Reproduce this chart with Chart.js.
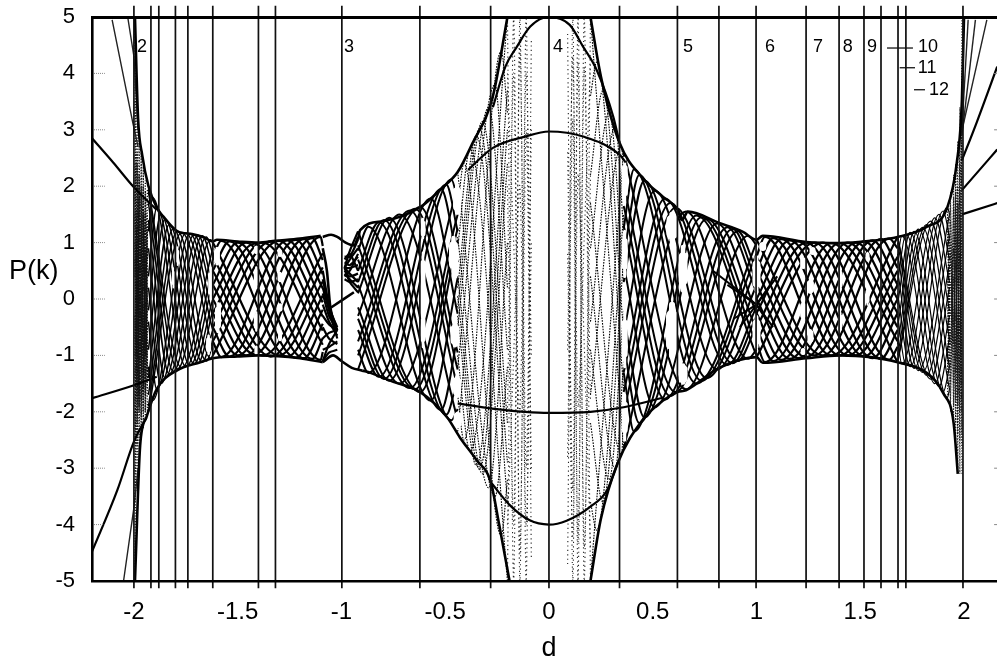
<!DOCTYPE html>
<html>
<head>
<meta charset="utf-8">
<title>P(k) against d</title>
<script src="https://cdn.jsdelivr.net/npm/chart.js@4/dist/chart.umd.min.js"></script>
<style>
	html, body { margin: 0; padding: 0; background: #fff; }
	canvas { display: block; }
</style>
</head>
<body>
<canvas id="chart" width="997" height="662"></canvas>
<script>
'use strict';

/*================ Axes ================*/

var xTicks = [-2, -1.5, -1, -0.5, 0, 0.5, 1, 1.5, 2];
var yTicks = [-5, -4, -3, -2, -1, 0, 1, 2, 3, 4, 5];
var yTickMarks = [-4, -3, -2, -1, 0, 1, 2, 3, 4];

// vertical lines at the band edges
var dividers = [-2, -1.918, -1.88, -1.8, -1.74, -1.62, -1.4, -1.318, -0.998, -0.622, -0.281, 0, 0.34, 0.619, 0.819, 0.998, 1.239, 1.398, 1.518, 1.6, 1.682, 1.72, 1.995];

// band numbers
var bandText = ['2', '3', '4', '5', '6', '7', '8', '9', '10', '11', '12'];
var bandD = [-1.961, -0.964, 0.043, 0.67, 1.065, 1.296, 1.44, 1.557, 1.827, 1.822, 1.88];
var bandP = [4.47, 4.47, 4.47, 4.47, 4.47, 4.47, 4.47, 4.47, 4.47, 4.09, 3.71];
var leaderD = [[1.629, 1.754], [1.69, 1.764], [1.759, 1.812]];
var leaderP = [4.45, 4.1, 3.71];

/*================ Single curves ================*/

var upperLeftD = [-1.995, -1.98, -1.96, -1.93, -1.89, -1.86, -1.79, -1.72, -1.667, -1.62, -1.6, -1.5, -1.4, -1.32, -1.2, -1.1];
var upperLeftP = [5, 3.2, 2.55, 2.0, 1.62, 1.47, 1.2, 1.15, 1.1, 1.02, 1.05, 1.02, 1.0, 1.03, 1.07, 1.12];
var lowerLeftD = [-1.995, -1.97, -1.94, -1.89, -1.79, -1.68, -1.62, -1.5, -1.4, -1.2, -1.09];
var lowerLeftP = [-5, -2.6, -2.1, -1.6, -1.26, -1.12, -1.05, -1.02, -1.0, -1.05, -1.12];
var upperMidLeftD = [-0.92, -0.91, -0.8, -0.62, -0.52, -0.44, -0.37, -0.27, -0.2];
var upperMidLeftP = [1.05, 1.22, 1.38, 1.63, 1.95, 2.25, 2.75, 3.6, 5];
var lowerMidLeftD = [-0.9, -0.86, -0.75, -0.62, -0.49, -0.43, -0.35, -0.28, -0.24, -0.19];
var lowerMidLeftP = [-1.27, -1.31, -1.47, -1.65, -2.1, -2.45, -2.85, -3.25, -4.0, -5];
var upperRightD = [0.2, 0.25, 0.34, 0.45, 0.55, 0.62, 0.64, 0.67, 0.82, 0.935, 1.0, 1.03, 1.24, 1.4, 1.55, 1.68, 1.82, 1.92, 1.965, 1.99, 2.0];
var upperRightP = [5, 3.95, 2.77, 2.15, 1.81, 1.58, 1.4, 1.55, 1.35, 1.19, 1.05, 1.12, 1.01, 0.99, 1.03, 1.1, 1.28, 1.63, 2.41, 3.53, 5];
var lowerRightD = [0.2, 0.25, 0.33, 0.45, 0.55, 0.62, 0.66, 0.82, 1.0, 1.03, 1.24, 1.4, 1.55, 1.68, 1.82, 1.9, 1.95, 1.97];
var lowerRightP = [-5, -3.9, -2.92, -2.15, -1.8, -1.65, -1.62, -1.22, -1.03, -1.13, -1.05, -1.0, -1.03, -1.12, -1.31, -1.67, -2.2, -3.1];

var curve3D = [-0.39, -0.27, -0.115, 0, 0.165, 0.34, 0.37];
var curve3P = [2.29, 2.68, 2.88, 2.97, 2.88, 2.56, 2.42];
var curve5D = [-0.27, -0.21, -0.155, -0.09, 0, 0.1, 0.165, 0.23, 0.31, 0.34];
var curve5P = [3.4, 4.12, 4.47, 4.83, 5, 4.86, 4.47, 4.06, 3.23, 2.77];
var curveMinus2D = [-0.44, -0.28, 0, 0.2, 0.36, 0.55];
var curveMinus2P = [-1.85, -1.94, -2.02, -2.0, -1.92, -1.75];
var curveMinus4D = [-0.28, -0.19, -0.095, 0, 0.085, 0.2, 0.28, 0.33];
var curveMinus4P = [-3.25, -3.65, -3.92, -4, -3.93, -3.68, -3.39, -2.92];

var outerThickD = [[-2.202, -2.1, -2.0, -1.89], [-2.202, -2.0, -1.89], [-2.202, -2.08, -2.0, -1.94], [1.99, 2.16], [1.99, 2.16], [1.99, 2.06, 2.16]];
var outerThickP = [[2.85, 2.42, 1.98, 1.58], [-1.76, -1.53, -1.38], [-4.48, -3.39, -2.53, -2.1], [1.5, 1.7], [1.93, 2.65], [2.46, 3.12, 4.12]];
var outerThinD = [[-2.105, -2.005, -1.98], [-2.03, -2.0, -1.98], [-2.05, -2.0, -1.98], [1.985, 2.11], [1.99, 2.055], [1.99, 2.02]];
var outerThinP = [[4.95, 3.12, 2.7], [5, 4.3, 3.0], [-5, -3.7, -3.0], [2.9, 4.95], [2.9, 4.95], [3.0, 4.95]];

// the white lens around d = -1
var lensBandsD = [[-1.09, -1.05, -1.02, -0.98, -0.94, -0.92], [-1.05, -0.94], [-1.09, -1.04, -1.0, -0.95, -0.9], [-1.09, -1.07, -1.055, -1.04]];
var lensBandsP = [[1.1, 1.14, 1.1, 1.0, 0.95, 1.1], [-0.15, 0.12], [-1.12, -1.0, -1.1, -1.22, -1.27], [0.9, 0.5, -0.1, -0.4]];
var lensWedgeLeftD = [-1.09, -1.06, -1.02];
var lensWedgeLeft = [[0.5, -0.1, -0.55], [0.1, -0.3, -0.55], [-0.3, -0.45, -0.55], [-0.7, -0.6, -0.55], [-1.1, -0.8, -0.55], [-1.1, -0.95, -0.9], [0.2, -0.2, -0.7], [-0.5, -0.7, -0.8], [-0.1, -0.4, -0.65], [-0.9, -0.85, -0.75], [0.35, -0.15, -0.5]];
var lensWedgeRightD = [-0.985, -0.96, -0.92];
var lensWedgeRight = [[0.55, 0.85, 1.2], [0.55, 0.7, 0.9], [0.55, 0.55, 0.6], [0.55, 0.45, 0.3], [0.55, 0.3, 0.12], [0.7, 0.8, 0.5], [0.4, 0.5, 0.8], [0.75, 0.75, 1.05], [0.65, 0.6, 0.75], [0.5, 0.4, 0.45], [0.45, 0.35, 0.2], [0.35, 0.3, 0.35]];

// rays meeting at the node d = 1, P = -0.1
var starRays = [
	[0.79, 0.5, 1, -0.1, 1.06, 0.22],
	[0.86, 0.25, 1, -0.1, 1.05, -0.38],
	[0.89, -0.35, 1, -0.1, 1.1, 0.4],
	[0.92, -0.5, 1, -0.1, 1.08, -0.5]
];

/*================ White gaps in the mesh: d, top P, bottom P ================*/

var gapD = [-1.81, -1.79, -1.6, -1.63, -1.595, -1.64, -1.41, -1.41, -1.41, -1.41, -1.296, -1.296, -1.296, -1.296, -0.607, -0.607, -0.607, -0.443, -0.46, -0.453, -0.443, -0.44, 0.365, 0.365, 0.365, 0.365, 0.593, 0.646, 0.593, 0.646, 1, 1, 1.03, 1.27, 1.225, 1.26, 1.225, 1.26, 1.225, 1.405, 1.405, 1.535, 1.535];
var gapTop = [0.55, 0.92, 0.9, 0.55, -0.08, -0.65, 0.92, 0.56, -0.24, -0.84, 0.83, 0.46, -0.1, -0.63, 1.42, 0.82, -0.25, 2.02, 1.08, -0.45, -1.38, -2.03, 2.5, 1.2, -0.2, -1.7, 1.5, 0.92, -0.1, -1.18, 0.74, -0.32, 0.96, 0.88, 0.72, 0.32, -0.05, -0.56, -0.9, 0.55, -0.25, 0.82, 0.2];
var gapBottom = [0.2, 0.6, 0.62, 0, -0.58, -0.97, 0.82, 0.2, -0.56, -0.98, 0.78, 0.32, -0.2, -0.73, 1.08, 0.03, -0.85, 1.53, 0.48, -0.82, -1.72, -2.26, 1.7, 0.4, -1.2, -2.5, 1.05, 0.15, -1.0, -1.48, 0.15, -0.85, 0.9, 0.82, 0.56, 0.12, -0.36, -0.76, -0.96, 0.15, -0.55, 0.68, -0.1];
var gapStroke = [3, 3, 6, 5, 6, 5, 5, 5, 5, 4, 5, 5, 5, 4, 5, 5, 5, 8, 9, 9, 8, 8, 6, 6, 6, 6, 11, 9, 12, 9, 8, 8, 7, 6, 6, 7, 6, 6, 5, 4, 4, 4, 4];

/*================ Mesh strands, each row is d, P, d, P, ... estimated by eye ================*/

// stipple next to d = -2
var stippleLeftD = [-1.995, -1.985, -1.975, -1.965, -1.955, -1.945, -1.935];
var stippleLeft = [
	[5, -3.4, 2.9, -2.5, 2.35, -2.15, 1.95],
	[-5, 3.4, -2.8, 2.6, -2.3, 2.1, -2],
	[3.5, -2.2, 2.2, -1.8, 1.6, -1.7, 1.2],
	[-3.6, 2.4, -2, 1.9, -1.7, 1.5, -1.4],
	[1.5, -1, 1.2, -1, 0.8, -1, 0.5],
	[-1.4, 0.9, -1.1, 0.9, -0.9, 0.7, -0.6],
	[0.4, 1.6, -1.6, 0.3, 0.2, 1.2, -0.1],
	[-0.3, -1.7, 1.5, -0.4, -0.1, -1.2, 0.2],
	[2.4, 0.2, -0.5, 1.4, -1.3, 0.4, 0.9],
	[-2.5, -0.2, 0.6, -1.3, 1.2, -0.5, -1],
	[1, -0.6, -1.9, 2, -0.6, -0.3, 1.5],
	[-1, 0.5, 2, -2.1, 0.6, 0.2, -1.6],
	[2, 2.6, -0.3, 0.7, 2, -2, 0],
	[-2, -2.6, 0.2, -0.8, -2, 1.9, 0.7],
	[0.7, -1.4, 0.4, 1.2, -1.6, 0.9, -1.3],
	[-0.7, 1.3, -0.5, -1.2, 1.5, -0.8, 1.3],
	[1.9, -0.4, 1.8, -0.5, 0.4, 1.6, -0.9],
	[-1.9, 0.5, -1.7, 0.5, -0.5, -1.6, 0.9]
];

var meshA = [
	[-1.93, 1.95, -1.77, -1.22, -1.62, 0.9],
	[-1.93, 1.2, -1.91, 1.8, -1.75, -1.2, -1.62, 0.55],
	[-1.93, 0.4, -1.89, 1.62, -1.73, -1.18, -1.62, 0.3],
	[-1.93, -0.2, -1.87, 1.5, -1.71, -1.15, -1.62, 0],
	[-1.93, -0.9, -1.85, 1.42, -1.69, -1.13, -1.62, -0.2],
	[-1.93, -1.4, -1.83, 1.32, -1.67, -1.12, -1.62, -0.55],
	[-1.93, -1.7, -1.81, 1.25, -1.65, -1.1, -1.62, -0.8],
	[-1.93, -1.9, -1.79, 1.2, -1.63, -1.05, -1.62, -1],
	[-1.93, -2, -1.77, 1.18, -1.62, -0.9],
	[-1.93, -1.2, -1.91, -1.8, -1.75, 1.17, -1.62, -0.55],
	[-1.93, -0.4, -1.89, -1.6, -1.73, 1.16, -1.62, -0.3],
	[-1.93, 0.2, -1.87, -1.5, -1.71, 1.14, -1.62, 0],
	[-1.93, 0.9, -1.85, -1.4, -1.69, 1.13, -1.62, 0.2],
	[-1.93, 1.4, -1.83, -1.33, -1.67, 1.12, -1.62, 0.55],
	[-1.93, 1.7, -1.81, -1.28, -1.65, 1.1, -1.62, 0.8],
	[-1.93, 1.9, -1.79, -1.24, -1.63, 1.05, -1.62, 1]
];

var meshB = [
	[-1.62, 1, -1.3, -1, -1.09, 0.31],
	[-1.62, 0.75, -1.58, 1.03, -1.26, -1.02, -1.09, 0.06],
	[-1.62, 0.5, -1.54, 1.02, -1.22, -1.04, -1.09, -0.19],
	[-1.62, 0.25, -1.5, 1, -1.18, -1.05, -1.09, -0.44],
	[-1.62, 0, -1.46, 1, -1.14, -1.06, -1.09, -0.69],
	[-1.62, -0.25, -1.42, 0.98, -1.1, -1.08, -1.09, -0.94],
	[-1.62, -0.5, -1.38, 1, -1.09, -0.81],
	[-1.62, -0.75, -1.34, 1.02, -1.09, -0.56],
	[-1.62, -1, -1.3, 1.03, -1.09, -0.31],
	[-1.62, -0.75, -1.58, -1.03, -1.26, 1.04, -1.09, -0.06],
	[-1.62, -0.5, -1.54, -1.02, -1.22, 1.05, -1.09, 0.19],
	[-1.62, -0.25, -1.5, -1, -1.18, 1.06, -1.09, 0.44],
	[-1.62, 0, -1.46, -1, -1.14, 1.08, -1.09, 0.69],
	[-1.62, 0.25, -1.42, -0.98, -1.1, 1.1, -1.09, 0.94],
	[-1.62, 0.5, -1.38, -1, -1.09, 0.81],
	[-1.62, 0.75, -1.34, -1.02, -1.09, 0.56]
];

var meshC = [
	[-0.92, 1.2, -0.62, -1.65, -0.44, 1.05],
	[-0.92, 0.86, -0.87, 1.28, -0.57, -1.8, -0.44, 0.37],
	[-0.92, 0.5, -0.82, 1.36, -0.52, -1.97, -0.44, -0.65],
	[-0.92, 0.1, -0.77, 1.44, -0.47, -2.15, -0.44, -1.95],
	[-0.92, -0.3, -0.72, 1.5, -0.44, -2.14],
	[-0.92, -0.75, -0.67, 1.57, -0.44, -1.57],
	[-0.92, -1.25, -0.62, 1.63, -0.44, -0.95],
	[-0.92, -0.9, -0.87, -1.31, -0.57, 1.78, -0.44, -0.26],
	[-0.92, -0.55, -0.82, -1.38, -0.52, 1.95, -0.44, 0.65],
	[-0.92, -0.15, -0.77, -1.45, -0.47, 2.12, -0.44, 1.75],
	[-0.92, 0.25, -0.72, -1.5, -0.44, 2],
	[-0.92, 0.7, -0.67, -1.58, -0.44, 1.5],
	[-0.92, 0.3, -0.795, 1.4, -0.495, -2.05, -0.44, -1.4],
	[-0.92, -1, -0.645, 1.6, -0.44, -1.25],
	[-0.92, -0.35, -0.795, -1.42, -0.495, 2.03, -0.44, 1.2],
	[-0.92, 0.95, -0.645, -1.6, -0.44, 1.25]
];

var meshE = [
	[-0.44, 2.25, -0.26, -3.5, -0.2, -1.2],
	[-0.44, 1.6, -0.41, 2.4, -0.23, -4.2, -0.2, -3.2],
	[-0.44, 0.9, -0.38, 2.65, -0.2, -5],
	[-0.44, 0.2, -0.35, 2.9, -0.2, -3.6],
	[-0.44, -0.5, -0.32, 3.15, -0.2, -2.2],
	[-0.44, -1.2, -0.29, 3.4, -0.2, -0.9],
	[-0.44, -2.35, -0.26, 3.8, -0.2, 0.2],
	[-0.44, -1.7, -0.41, -2.5, -0.23, 4.4, -0.2, 3.3],
	[-0.44, -1, -0.38, -2.7, -0.2, 5],
	[-0.44, -0.3, -0.35, -2.95, -0.2, 3.7],
	[-0.44, 0.4, -0.32, -3.1, -0.2, 2.4],
	[-0.44, 1.1, -0.29, -3.35, -0.2, 1],
	[-0.44, -0.15, -0.335, 3.02, -0.2, -2.9],
	[-0.44, 0.05, -0.335, -3.02, -0.2, 3]
];

// dotted columns either side of the white gap at d = 0
var dottedLeftD = [-0.2, -0.17, -0.14, -0.11, -0.085];
var dottedLeft = [
	[5, -5, 5, -5, 4.6],
	[-5, 5, -5, 5, -4.6],
	[2, -4, 4.5, -3, 3],
	[-2, 4, -4.5, 3, -3],
	[4, 1, -2, 4, -1],
	[-4, -1, 2, -4, 1]
];
var dottedRightD = [0.09, 0.115, 0.14, 0.17, 0.2];
var dottedRight = [
	[4.7, -5, 5, -5, 5],
	[-4.7, 5, -5, 5, -5],
	[2.6, -3.4, 4.2, -4.4, 2.2],
	[-2.8, 3.2, -4.3, 4.1, -1.8],
	[0.8, -4.2, 2.2, -0.8, -4.4],
	[-0.9, 4.3, -1.9, 1.1, 4.2]
];

var meshF = [
	[0.2, 5, 0.36, -2.65],
	[0.2, 3.6, 0.23, 4.2, 0.36, -1.6],
	[0.2, 2.2, 0.26, 3.7, 0.36, -0.6],
	[0.2, 0.9, 0.29, 3.3, 0.36, 0.3],
	[0.2, -0.4, 0.32, 3.05, 0.36, 1.2],
	[0.2, -1.7, 0.35, 2.7, 0.36, 2.2],
	[0.2, -5, 0.36, 2.6],
	[0.2, -3.6, 0.23, -4.1, 0.36, 1.5],
	[0.2, -2.2, 0.26, -3.6, 0.36, 0.7],
	[0.2, -0.9, 0.29, -3.2, 0.36, -0.2],
	[0.2, 0.4, 0.32, -3, 0.36, -1.1],
	[0.2, 1.7, 0.35, -2.75, 0.36, -2.1]
];

var meshH = [
	[0.36, 2.6, 0.66, -1.6, 0.96, 1.12, 1, 0.95],
	[0.36, 1.25, 0.41, 2.3, 0.71, -1.5, 1, 1],
	[0.36, 0.3, 0.46, 2.1, 0.76, -1.4, 1, 0.56],
	[0.36, -0.6, 0.51, 1.92, 0.81, -1.25, 1, 0.24],
	[0.36, -1.3, 0.56, 1.78, 0.86, -1.17, 1, -0.14],
	[0.36, -2, 0.61, 1.62, 0.91, -1.1, 1, -0.47],
	[0.36, -2.65, 0.66, 1.55, 0.96, -1.06, 1, -0.9],
	[0.36, -1.3, 0.41, -2.35, 0.71, 1.48, 1, -1],
	[0.36, -0.3, 0.46, -2.1, 0.76, 1.42, 1, -0.55],
	[0.36, 0.6, 0.51, -1.92, 0.81, 1.34, 1, -0.25],
	[0.36, 1.3, 0.56, -1.78, 0.86, 1.27, 1, 0.12],
	[0.36, 2, 0.61, -1.65, 0.91, 1.2, 1, 0.5],
	[0.36, 0.75, 0.435, 2.2, 0.735, -1.45, 1, 0.8],
	[0.36, -1.65, 0.585, 1.7, 0.885, -1.14, 1, -0.3],
	[0.36, -0.8, 0.435, -2.2, 0.735, 1.45, 1, -0.8],
	[0.36, 1.65, 0.585, -1.72, 0.885, 1.24, 1, 0.3]
];

var meshM = [
	[1, 1.05, 1.32, -1, 1.64, 1.07, 1.68, 0.9],
	[1, 0.75, 1.04, 1.1, 1.36, -1, 1.68, 1.1],
	[1, 0.5, 1.08, 1.08, 1.4, -1, 1.68, 0.75],
	[1, 0.25, 1.12, 1.06, 1.44, -1, 1.68, 0.5],
	[1, 0, 1.16, 1.04, 1.48, -1, 1.68, 0.25],
	[1, -0.25, 1.2, 1.02, 1.52, -1.02, 1.68, 0],
	[1, -0.5, 1.24, 1, 1.56, -1.05, 1.68, -0.25],
	[1, -0.75, 1.28, 1, 1.6, -1.06, 1.68, -0.55],
	[1, -1.03, 1.32, 1, 1.64, -1.08, 1.68, -0.85],
	[1, -0.75, 1.04, -1.12, 1.36, 0.99, 1.68, -1.12],
	[1, -0.5, 1.08, -1.1, 1.4, 0.99, 1.68, -0.75],
	[1, -0.25, 1.12, -1.08, 1.44, 1, 1.68, -0.5],
	[1, 0, 1.16, -1.06, 1.48, 1, 1.68, -0.25],
	[1, 0.25, 1.2, -1.05, 1.52, 1.02, 1.68, 0],
	[1, 0.5, 1.24, -1.03, 1.56, 1.04, 1.68, 0.25],
	[1, 0.75, 1.28, -1, 1.6, 1.06, 1.68, 0.55]
];

var meshN = [
	[1.68, 1.1, 1.84, -1.42, 1.93, 0.2],
	[1.68, 0.7, 1.7, 1.12, 1.86, -1.5, 1.93, -0.3],
	[1.68, 0.3, 1.72, 1.15, 1.88, -1.55, 1.93, -0.7],
	[1.68, -0.1, 1.74, 1.18, 1.9, -1.65, 1.93, -1.2],
	[1.68, -0.5, 1.76, 1.2, 1.92, -1.75, 1.93, -1.6],
	[1.68, -0.8, 1.78, 1.24, 1.93, -1.6],
	[1.68, -1, 1.8, 1.27, 1.93, -1.2],
	[1.68, -1.1, 1.82, 1.32, 1.93, -0.7],
	[1.68, -1.12, 1.84, 1.38, 1.93, -0.2],
	[1.68, -0.7, 1.7, -1.15, 1.86, 1.44, 1.93, 0.3],
	[1.68, -0.3, 1.72, -1.18, 1.88, 1.5, 1.93, 0.7],
	[1.68, 0.1, 1.74, -1.2, 1.9, 1.56, 1.93, 1.1],
	[1.68, 0.5, 1.76, -1.23, 1.92, 1.63, 1.93, 1.5],
	[1.68, 0.8, 1.78, -1.27, 1.93, 1.5],
	[1.68, 1, 1.8, -1.3, 1.93, 1.1],
	[1.68, 1.1, 1.82, -1.35, 1.93, 0.6]
];

var stippleRightD = [1.92, 1.935, 1.95, 1.96, 1.97, 1.98, 1.99];
var stippleRight = [
	[1.6, -2, 2.2, -2.5, 2.8, -3.1, 5],
	[-1.7, 1.9, -2.2, 2.4, -3, 3.4, -3.1],
	[0.5, -1.2, 1.6, -1.8, 2, -2.5, 4],
	[-0.6, 1, -1.5, 1.9, -2.4, 2.8, -2.6],
	[1.1, -0.3, 0.9, -1, 1.2, -1.5, 3],
	[-1.2, 0.3, -0.8, 1.1, -1.4, 1.5, -2],
	[0.2, 1.4, -1.9, 0.7, -0.7, 0.8, -1],
	[-0.1, -1.5, 1.8, -0.4, 0.4, -0.6, 1.5],
	[1.4, 0.7, -0.5, 1.6, -1.9, 2.4, 2],
	[-1, -0.7, 0.4, -1.3, 1.7, -2, 0.5],
	[0.9, 1.7, -1, -1.1, 1.4, 1.9, -1.5],
	[-0.9, -1.8, 1, 1.2, -1.5, -1.8, 1.1],
	[1.5, -0.8, 0.2, 2.2, 0.3, -0.9, 3.5],
	[-1.5, 0.8, -0.3, -2.2, -0.2, 1, -2.4]
];

/*================ Datasets ================*/

var datasets = [];

function addLine(ds, ps, width, extra) {
	var set = {
		data: ds.map(function(d, i) {
			return { x: d, y: ps[i] };
		}),
		showLine: true,
		borderColor: '#000',
		borderWidth: width,
		pointRadius: 0,
		tension: 0
	};
	datasets.push(Object.assign(set, extra || {}));
}

function addBand(ds, rows, width, extra) {
	rows.forEach(function(row) {
		addLine(ds, row, width, Object.assign({ tension: 0.25 }, extra || {}));
	});
}

// rows hold their own d values: d, P, d, P, ...
function addMesh(rows, width, extra) {
	rows.forEach(function(row) {
		var ds = row.filter(function(v, i) { return i % 2 === 0; });
		var ps = row.filter(function(v, i) { return i % 2 === 1; });
		addLine(ds, ps, width, Object.assign({ cubicInterpolationMode: 'monotone' }, extra || {}));
	});
}

var smooth = { cubicInterpolationMode: 'monotone' };
var stipple = { tension: 0, borderDash: [1.2, 1.6], borderColor: '#111' };
var dotted = { borderDash: [1.2, 3.2], borderColor: '#222' };
var thin = { borderDash: [1.6, 1.2] };
var gapStyle = { borderColor: '#fff', borderCapStyle: 'round' };

dividers.forEach(function(d) {
	addLine([d, d], [5.2, -5.13], 1.7, { clip: false, borderColor: '#111' });
});
leaderD.forEach(function(ds, i) {
	addLine(ds, [leaderP[i], leaderP[i]], 1.2);
});
yTickMarks.forEach(function(p) {
	addLine([-2.202, -2.14], [p, p], 1, { borderColor: '#888', borderDash: [1, 1] });
	addLine([2.145, 2.159], [p, p], 1, { borderColor: '#888' });
});

addLine(upperLeftD, upperLeftP, 2.6, smooth);
addLine(lowerLeftD, lowerLeftP, 2.6, smooth);
addLine(upperMidLeftD, upperMidLeftP, 2.6, smooth);
addLine(lowerMidLeftD, lowerMidLeftP, 2.6, smooth);
addLine(upperRightD, upperRightP, 2.6, smooth);
addLine(lowerRightD, lowerRightP, 2.6, smooth);
addLine(curve3D, curve3P, 2.2, smooth);
addLine(curve5D, curve5P, 2.2, smooth);
addLine(curveMinus2D, curveMinus2P, 2.2, smooth);
addLine(curveMinus4D, curveMinus4P, 2.2, smooth);
outerThickD.forEach(function(ds, i) {
	addLine(ds, outerThickP[i], 2.2, smooth);
});
outerThinD.forEach(function(ds, i) {
	addLine(ds, outerThinP[i], 1.4, { borderColor: '#222' });
});
lensBandsD.forEach(function(ds, i) {
	addLine(ds, lensBandsP[i], 2.6, smooth);
});
addBand(lensWedgeLeftD, lensWedgeLeft, 2.2);
addBand(lensWedgeRightD, lensWedgeRight, 2.2);
addMesh(starRays, 2, { cubicInterpolationMode: 'default', tension: 0 });

// each gap: a narrow stroke its full length with a wider one in the middle, so it tapers
gapD.forEach(function(d, i) {
	var inset = (gapTop[i] - gapBottom[i]) * 0.22;
	addLine([d, d], [gapTop[i], gapBottom[i]], gapStroke[i] * 0.5, gapStyle);
	addLine([d, d], [gapTop[i] - inset, gapBottom[i] + inset], gapStroke[i], gapStyle);
});

addBand(stippleLeftD, stippleLeft, 1.3, stipple);
addMesh(meshA, 1.5);
addMesh(meshB, 2.2);
addMesh(meshC, 2);
addMesh(meshE, 1.1, thin);
addBand(dottedLeftD, dottedLeft, 1.1, dotted);
addBand(dottedRightD, dottedRight, 1.1, dotted);
addMesh(meshF, 1.1, thin);
addMesh(meshH, 2);
addMesh(meshM, 2.2);
addMesh(meshN, 1.2);
addBand(stippleRightD, stippleRight, 1, stipple);

/*================ Chart ================*/

var fontFamily = '"Liberation Sans", Arial, sans-serif';

var textPlugin = {
	id: 'chartText',
	afterDraw: function(chart) {
		var ctx = chart.ctx;
		var x = chart.scales.x;
		var y = chart.scales.y;
		ctx.save();
		ctx.fillStyle = '#000';
		ctx.textBaseline = 'middle';
		ctx.textAlign = 'center';
		ctx.font = '18px ' + fontFamily;
		bandText.forEach(function(label, i) {
			ctx.fillText(label, x.getPixelForValue(bandD[i]), y.getPixelForValue(bandP[i]));
		});
		ctx.font = '27px ' + fontFamily;
		ctx.textAlign = 'left';
		ctx.fillText('P(k)', 9, 272);
		ctx.textAlign = 'center';
		ctx.fillText('d', x.getPixelForValue(0), 649);
		ctx.restore();
	}
};

function noPadding(scale) {
	scale.paddingTop = 0;
	scale.paddingBottom = 0;
	scale.paddingLeft = 0;
	scale.paddingRight = 0;
}

new Chart(document.getElementById('chart'), {
	type: 'scatter',
	data: { datasets: datasets },
	plugins: [ textPlugin ],
	options: {
		responsive: false,
		animation: false,
		events: [],
		plugins: {
			legend: { display: false },
			tooltip: { enabled: false }
		},
		layout: { padding: 0 },
		scales: {
			x: {
				type: 'linear',
				min: -2.202,
				max: 2.159,
				afterFit: function(scale) { scale.height = 81; noPadding(scale); },
				afterBuildTicks: function(scale) {
					scale.ticks = xTicks.map(function(v) { return { value: v }; });
				},
				grid: { display: false, drawTicks: false },
				border: { color: '#000', width: 2.4, z: 2 },
				ticks: {
					color: '#000',
					padding: 17,
					maxRotation: 0,
					autoSkip: false,
					font: { family: fontFamily, size: 24 },
					callback: function(v) { return String(v); }
				}
			},
			xTop: {
				type: 'linear',
				position: 'top',
				min: -2.202,
				max: 2.159,
				afterFit: function(scale) { scale.height = 17; noPadding(scale); },
				grid: { display: false, drawTicks: false },
				border: { color: '#000', width: 3, z: 2 },
				ticks: { display: false }
			},
			y: {
				type: 'linear',
				min: -5,
				max: 5,
				afterFit: function(scale) { scale.width = 92; noPadding(scale); },
				afterBuildTicks: function(scale) {
					scale.ticks = yTicks.map(function(v) { return { value: v }; });
				},
				grid: { display: false, drawTicks: false },
				border: { color: '#000', width: 2.6, z: 2 },
				ticks: {
					color: '#000',
					padding: 17,
					autoSkip: false,
					font: { family: fontFamily, size: 22 },
					callback: function(v) { return String(v); }
				}
			}
		}
	}
});
</script>
</body>
</html>
